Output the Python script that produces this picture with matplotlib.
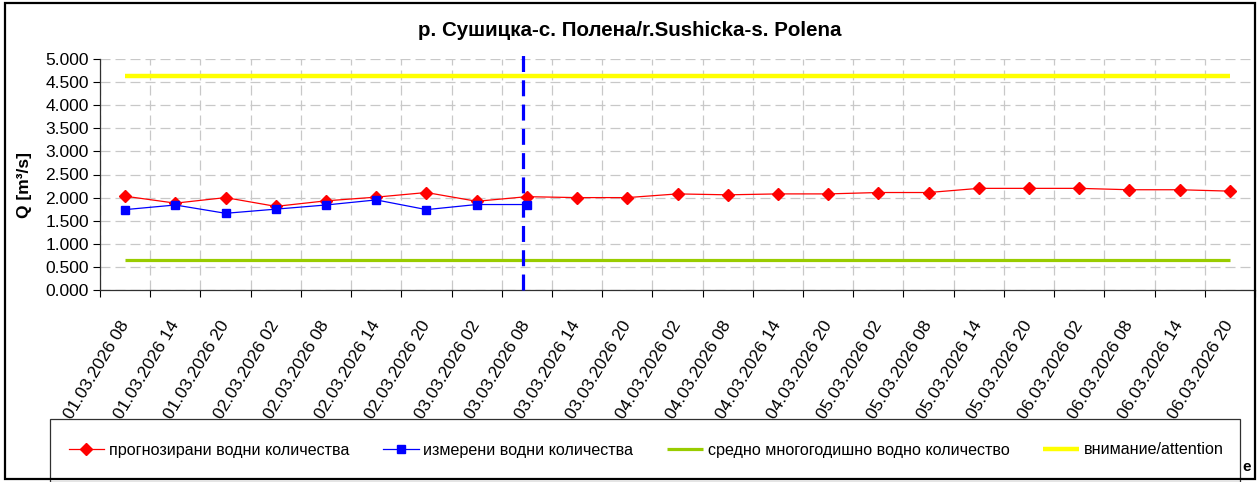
import matplotlib.pyplot as plt
from matplotlib.patches import Rectangle
from matplotlib.ticker import FixedLocator, FormatStrFormatter
from matplotlib.transforms import ScaledTranslation

plt.rcParams['font.family'] = ['Liberation Sans', 'DejaVu Sans']

# data
dates = ['01.03.2026 08', '01.03.2026 14', '01.03.2026 20',
         '02.03.2026 02', '02.03.2026 08', '02.03.2026 14', '02.03.2026 20',
         '03.03.2026 02', '03.03.2026 08', '03.03.2026 14', '03.03.2026 20',
         '04.03.2026 02', '04.03.2026 08', '04.03.2026 14', '04.03.2026 20',
         '05.03.2026 02', '05.03.2026 08', '05.03.2026 14', '05.03.2026 20',
         '06.03.2026 02', '06.03.2026 08', '06.03.2026 14', '06.03.2026 20']
forecast = [2.03, 1.88, 2.00, 1.81, 1.93, 2.01, 2.11, 1.92, 2.02, 2.00, 2.00,
            2.08, 2.06, 2.08, 2.08, 2.11, 2.11, 2.20, 2.20, 2.20, 2.17, 2.17, 2.14]
measured = [1.74, 1.84, 1.66, 1.75, 1.84, 1.95, 1.74, 1.85, 1.85]
mean_q = 0.65
attention_q = 4.64
forecast_start = 7.93  # position of the "now" marker on the category axis

W, H = 1258, 482
fig = plt.figure(figsize=(W / 100, H / 100), dpi=100)
ax = fig.add_axes([100 / W, 1 - 290 / H, 1155 / W, 231 / H])

x = list(range(len(dates)))
xm = list(range(len(measured)))

ax.plot(x, [mean_q] * len(x), color='#99cc00', lw=2.3, solid_capstyle='butt',
        label='средно многогодишно водно количество', zorder=2)
ax.plot(x, [attention_q] * len(x), color='#ffff00', lw=3.2, solid_capstyle='butt',
        label='внимание/attention', zorder=2)
ax.plot(x, forecast, color='red', lw=0.9, marker='D', ms=5.8, mec='red',
        label='прогнозирани водни количества', zorder=4)
ax.plot(xm, measured, color='blue', lw=0.9, marker='s', ms=5.8, mec='blue',
        label='измерени водни количества', zorder=5)
ax.axvline(forecast_start, ymin=0, ymax=1.025, color='blue', lw=2.3,
           dashes=(5, 2.6), clip_on=False, zorder=6)

ax.set_xlim(-0.5, 22.5)
ax.set_ylim(0, 5)
ax.set_yticks([i * 0.5 for i in range(11)])
ax.yaxis.set_major_formatter(FormatStrFormatter('%.3f'))
ax.set_xticks(x)
ax.set_xticklabels(dates, rotation=59, ha='right', va='center',
                   rotation_mode='anchor', fontsize=12.6)
shift = ScaledTranslation(-0.05, 0, fig.dpi_scale_trans)
for lab in ax.get_xticklabels():
    lab.set_transform(lab.get_transform() + shift)
ax.xaxis.set_minor_locator(FixedLocator([i - 0.5 for i in range(len(dates) + 1)]))
ax.tick_params(axis='x', which='major', length=0, pad=23)
ax.tick_params(axis='x', which='minor', length=5, width=0.8, direction='out')
ax.tick_params(axis='y', length=5, width=0.8, direction='out', labelsize=12.5, pad=3)

ax.grid(axis='y', which='major', color='#c8c8c8', lw=0.9, dashes=(8, 4))
ax.grid(axis='x', which='minor', color='#c8c8c8', lw=0.9, dashes=(8, 4))
ax.set_axisbelow(True)
for s in ['top', 'right']:
    ax.spines[s].set_visible(False)
for s in ['left', 'bottom']:
    ax.spines[s].set_color('#303030')
    ax.spines[s].set_linewidth(0.9)

fig.text(630 / W, 1 - 31 / H, 'р. Сушицка-с. Полена/r.Sushicka-s. Polena',
         ha='center', va='center', fontsize=14.8, fontweight='bold')
fig.text(25 / W, 1 - 185 / H, 'Q [m³/s]', rotation=90, ha='center',
         va='center', fontsize=12.5, fontweight='bold')

# legend box and entries
fig.add_artist(Rectangle((50 / W, 0), 1190 / W, 1 - 419 / H, transform=fig.transFigure,
                         fill=False, ec='#303030', lw=0.9))
h, l = ax.get_legend_handles_labels()
order = [2, 3, 0, 1]
fig.legend([h[i] for i in order], [l[i] for i in order], ncol=4,
           loc='center', bbox_to_anchor=(646 / W, 1 - 450 / H), frameon=False,
           fontsize=11.6, handlelength=2.2, handletextpad=0.3, columnspacing=2.1)
fig.text(1247 / W, 1 - 467 / H, 'e', ha='center', va='center',
         fontsize=11, fontweight='bold')

# outer chart frame
fig.add_artist(Rectangle((5 / W, 1 - 479 / H), 1250 / W, 476 / H,
                         transform=fig.transFigure, fill=False, ec='black', lw=1.6))

fig.savefig('out.png', dpi=100)
